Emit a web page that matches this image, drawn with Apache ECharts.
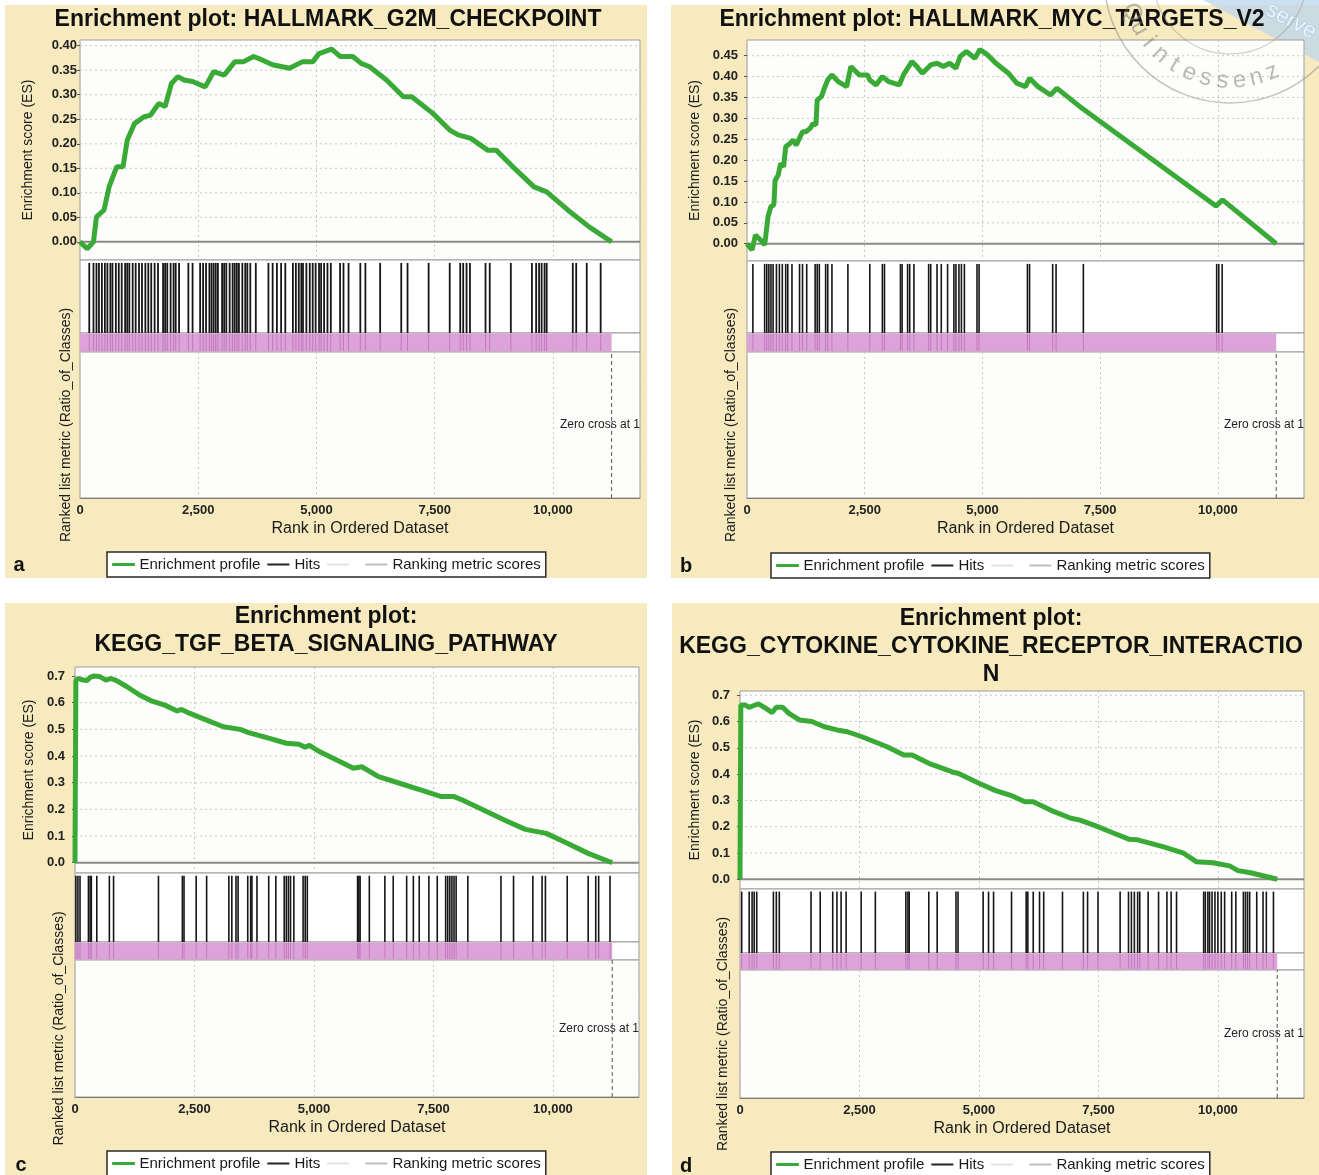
<!DOCTYPE html>
<html>
<head>
<meta charset="utf-8">
<title>Enrichment plots</title>
<script src="https://cdn.jsdelivr.net/npm/echarts@6/dist/echarts.min.js"></script>
<style>
  html, body { margin: 0; padding: 0; background: #fff; }
  #chart { width: 1319px; height: 1175px; }
</style>
</head>
<body>
<div id="chart"></div>
<script>
// ---- data ----
var listSize = 11240;

var rankA = [0,152,285,348,508,615,775,909,998,1150,1355,1488,1667,1800,1934,2068,2201,2380,2647,2825,3048,3271,3449,3672,3850,4073,4430,4697,4920,5054,5321,5499,5767,5945,6123,6480,6836,7015,7460,7817,7995,8262,8619,8797,9153,9599,9867,10312,10758,11240];
var esA = [0,-0.014,0,0.051,0.065,0.112,0.153,0.153,0.207,0.241,0.255,0.258,0.282,0.276,0.323,0.337,0.330,0.327,0.316,0.347,0.340,0.367,0.367,0.378,0.371,0.361,0.354,0.367,0.367,0.384,0.393,0.378,0.378,0.364,0.357,0.330,0.296,0.296,0.262,0.228,0.218,0.211,0.187,0.187,0.153,0.112,0.102,0.065,0.031,0];
var hitsA = [196,285,348,401,463,526,579,642,686,758,820,882,954,998,1043,1114,1177,1248,1310,1382,1444,1506,1578,1649,1756,1800,1845,1916,1979,2023,2095,2291,2380,2540,2603,2665,2736,2781,2825,2870,2915,3004,3048,3093,3164,3227,3271,3316,3360,3432,3494,3538,3601,3717,3984,4073,4163,4252,4341,4501,4564,4626,4679,4715,4786,4858,4920,4982,5054,5098,5161,5232,5303,5499,5571,5678,5927,6034,6346,6792,6925,7371,7817,8039,8102,8173,8245,8574,8663,9109,9555,9644,9706,9760,9822,9867,10419,10491,10714,11008];

var rankB = [0,107,179,286,375,447,509,571,598,661,714,777,822,911,982,1045,1179,1250,1340,1402,1465,1491,1581,1643,1715,1804,1938,2116,2206,2384,2563,2608,2741,2875,3009,3233,3322,3501,3608,3724,3902,4036,4170,4304,4438,4527,4661,4840,4947,5108,5287,5554,5733,5912,6001,6180,6447,6581,6805,7117,9960,10100,11240];
var esB = [0,-0.015,0.021,0.009,-0.003,0.065,0.089,0.093,0.152,0.164,0.192,0.184,0.232,0.240,0.248,0.236,0.268,0.268,0.276,0.288,0.284,0.344,0.352,0.372,0.392,0.404,0.388,0.376,0.424,0.404,0.404,0.392,0.380,0.400,0.388,0.380,0.404,0.436,0.424,0.408,0.428,0.432,0.424,0.432,0.420,0.448,0.460,0.444,0.465,0.452,0.432,0.408,0.384,0.376,0.396,0.376,0.356,0.372,0.352,0.324,0.090,0.105,0];
var hitsB = [125,375,420,464,509,554,625,688,750,822,866,955,1116,1179,1268,1447,1491,1536,1670,1715,1804,2143,2608,2875,2920,3259,3295,3411,3456,3545,3858,3902,4036,4126,4260,4394,4438,4501,4554,4617,4885,4929,5956,6001,6492,6564,7144,9975,10020,10092];

var rankC = [0,18,79,167,254,316,386,518,649,754,868,1088,1351,1614,1877,2140,2228,2404,2754,3105,3456,3632,4070,4421,4684,4816,4904,5123,5474,5825,6000,6351,6790,7228,7667,7930,8105,8544,8983,9421,9860,10298,10737,11240];
var esC = [0,0.685,0.691,0.685,0.683,0.695,0.700,0.698,0.685,0.691,0.683,0.660,0.629,0.606,0.591,0.569,0.575,0.560,0.535,0.510,0.500,0.488,0.466,0.448,0.444,0.433,0.440,0.416,0.385,0.354,0.360,0.323,0.298,0.273,0.248,0.248,0.235,0.198,0.160,0.125,0.110,0.073,0.035,0];
var hitsC = [18,61,105,281,316,342,456,719,807,1746,2246,2281,2535,2754,3219,3281,3368,3412,3614,3675,3702,3807,4053,4202,4377,4421,4465,4509,4579,4772,4816,4860,5912,5939,5965,6158,6483,6658,6939,7079,7202,7404,7579,7755,7798,7842,7886,7930,7974,8219,8912,9175,9579,9772,9842,10298,10737,10895,10956,11193];

var rankD = [0,17,105,192,262,385,542,673,760,891,1023,1241,1503,1765,2028,2246,2552,2814,3076,3426,3601,3950,4300,4475,4562,4999,5349,5698,5961,6135,6572,6922,7097,7446,7796,8146,8320,8845,9282,9544,9894,10243,10418,10680,11240];
var esD = [0,0.663,0.663,0.654,0.659,0.667,0.650,0.634,0.654,0.654,0.631,0.606,0.600,0.580,0.568,0.561,0.542,0.523,0.504,0.473,0.473,0.441,0.418,0.406,0.403,0.365,0.337,0.317,0.295,0.295,0.257,0.232,0.226,0.203,0.177,0.152,0.150,0.124,0.099,0.067,0.063,0.051,0.033,0.025,0];
var hitsD = [35,192,253,297,350,699,760,822,1486,1678,1940,2028,2115,2220,2535,2832,3470,3513,3540,3950,4125,4519,4562,5087,5200,5305,5681,5987,6022,6135,6267,6354,6747,7184,7272,7490,7953,8128,8189,8251,8320,8364,8539,8757,8932,9020,9133,9701,9736,9789,9824,9876,9937,9999,10069,10139,10287,10374,10532,10575,10619,10663,10811,10943,11012,11161];

var ticksA = [0,0.05,0.10,0.15,0.20,0.25,0.30,0.35,0.40];
var ticksB = [0,0.05,0.10,0.15,0.20,0.25,0.30,0.35,0.40,0.45];
var ticksCD = [0,0.1,0.2,0.3,0.4,0.5,0.6,0.7];

var titleA = ['Enrichment plot: HALLMARK_G2M_CHECKPOINT'];
var titleB = ['Enrichment plot: HALLMARK_MYC_TARGETS_V2'];
var titleC = ['Enrichment plot:', 'KEGG_TGF_BETA_SIGNALING_PATHWAY'];
var titleD = ['Enrichment plot:', 'KEGG_CYTOKINE_CYTOKINE_RECEPTOR_INTERACTIO', 'N'];

// ---- layout of each panel (pixels) ----
var panels = [
  { tag: 'a', title: titleA, ranks: rankA, es: esA, hits: hitsA, ticks: ticksA, dec: 2,
    left: 80, width: 560, esTop: 40, esBottom: 260, hitsBottom: 333, pinkBottom: 352, axisY: 498,
    yMin: -0.037, yMax: 0.4116, xMax: 11840, labelMargin: 3, esGap: 45, rlGap: 7,
    bg: [5, 5, 642, 573], titleX: 328, titleY: [20], legendLeft: 107, legendTop: 552, tagPos: [19, 565], hitW: 1.8 },
  { tag: 'b', title: titleB, ranks: rankB, es: esB, hits: hitsB, ticks: ticksB, dec: 2,
    left: 747, width: 557, esTop: 40, esBottom: 261, hitsBottom: 333, pinkBottom: 352, axisY: 498,
    yMin: -0.0414, yMax: 0.4876, xMax: 11830, labelMargin: 9, esGap: 45, rlGap: 9,
    bg: [671, 5, 648, 573], titleX: 992, titleY: [20], legendLeft: 771, legendTop: 553, tagPos: [686, 566], hitW: 1.6 },
  { tag: 'c', title: titleC, ranks: rankC, es: esC, hits: hitsC, ticks: ticksCD, dec: 1,
    left: 75, width: 564, esTop: 667, esBottom: 873, hitsBottom: 942, pinkBottom: 960, axisY: 1097,
    yMin: -0.0386, yMax: 0.734, xMax: 11800, labelMargin: 10, esGap: 39, rlGap: 9,
    bg: [5, 603, 642, 572], titleX: 326, titleY: [617, 645], legendLeft: 107, legendTop: 1151, tagPos: [21, 1165], hitW: 1.6 },
  { tag: 'd', title: titleD, ranks: rankD, es: esD, hits: hitsD, ticks: ticksCD, dec: 1,
    left: 740, width: 564, esTop: 691, esBottom: 889, hitsBottom: 953, pinkBottom: 970, axisY: 1098,
    yMin: -0.037, yMax: 0.716, xMax: 11800, labelMargin: 10, esGap: 38, rlGap: 10,
    bg: [672, 603, 647, 572], titleX: 991, titleY: [619, 647, 675], legendLeft: 771, legendTop: 1152, tagPos: [686, 1166], hitW: 1.6 }
];

var FONT = "'Liberation Sans', Arial, Helvetica, sans-serif";
var GREEN = '#3aaa36';
var PINK = '#dca3d8';
var PANEL_BG = '#f7eabf';

function thousands(v) {
  return String(v).replace(/\B(?=(\d{3})+(?!\d))/g, ',');
}

var option = {
  animation: false,
  textStyle: { fontFamily: FONT },
  grid: [], xAxis: [], yAxis: [], series: [], legend: [], graphic: []
};

panels.forEach(function(p, i) {
  var g = i * 4;
  var right = p.left + p.width;
  var tops = [p.esTop, p.esBottom, p.hitsBottom, p.pinkBottom];
  var bottoms = [p.esBottom, p.hitsBottom, p.pinkBottom, p.axisY];
  var fills = ['#fdfdfb', '#ffffff', '#ffffff', '#fdfdfc'];

  // panel background
  option.graphic.push({
    type: 'rect', z: -10, silent: true,
    shape: { x: p.bg[0], y: p.bg[1], width: p.bg[2], height: p.bg[3] },
    style: { fill: PANEL_BG }
  });

  for (var k = 0; k < 4; k++) {
    option.grid.push({
      left: p.left, top: tops[k], width: p.width, height: bottoms[k] - tops[k],
      show: true, backgroundColor: fills[k], borderColor: '#9c9c9c', borderWidth: 1
    });
    var showSplit = (k === 0 || k === 3);
    option.xAxis.push({
      type: 'value', gridIndex: g + k, min: 0, max: p.xMax, interval: 2500,
      axisLine: { show: k === 3, lineStyle: { color: '#7a7a7a' } },
      axisTick: { show: false },
      axisLabel: k === 3 ? {
        show: true, margin: 6, fontSize: 13, fontWeight: 'bold', color: '#222',
        showMaxLabel: false, formatter: thousands
      } : { show: false },
      splitLine: { show: showSplit, lineStyle: { color: '#c6c6c6', type: [2, 3] } },
      name: k === 3 ? 'Rank in Ordered Dataset' : '',
      nameLocation: 'middle', nameGap: 23,
      nameTextStyle: { fontSize: 16, color: '#1a1a1a' }
    });
  }

  // y axes
  option.yAxis.push({
    type: 'value', gridIndex: g, min: p.yMin, max: p.yMax,
    name: 'Enrichment score (ES)', nameLocation: 'middle', nameGap: p.esGap,
    nameTextStyle: { fontSize: 14, color: '#1a1a1a' },
    axisLine: { show: false },
    axisTick: { show: true, customValues: p.ticks, length: 3, lineStyle: { color: '#555' } },
    axisLabel: {
      customValues: p.ticks, margin: p.labelMargin, fontSize: 13, fontWeight: 'bold', color: '#222',
      formatter: (function(dec) { return function(v) { return v.toFixed(dec); }; })(p.dec)
    },
    splitLine: { show: false }
  });
  for (var m = 1; m < 4; m++) {
    option.yAxis.push({
      type: 'value', gridIndex: g + m, min: 0, max: 1,
      axisLine: { show: false }, axisTick: { show: false }, axisLabel: { show: false },
      splitLine: { show: false },
      name: m === 3 ? 'Ranked list metric (Ratio_of_Classes)' : '',
      nameLocation: 'middle', nameGap: p.rlGap,
      nameTextStyle: { fontSize: 14, color: '#1a1a1a' }
    });
  }

  // horizontal grid lines and zero line of the ES plot
  option.series.push({
    type: 'custom', xAxisIndex: g, yAxisIndex: g, silent: true, z: 1,
    data: p.ticks.map(function(v) { return [0, v]; }),
    encode: { x: 0, y: 1 },
    renderItem: (function(xMax) {
      return function(params, api) {
        var v = api.value(1);
        var a = api.coord([0, v]), b = api.coord([xMax, v]);
        return {
          type: 'line',
          shape: { x1: a[0], y1: a[1], x2: b[0], y2: b[1] },
          style: v === 0 ? { stroke: '#8a8a8a', lineWidth: 2 }
                         : { stroke: '#c6c6c6', lineWidth: 1, lineDash: [2, 3] }
        };
      };
    })(p.xMax)
  });

  // enrichment profile
  option.series.push({
    type: 'line', name: 'Enrichment profile', xAxisIndex: g, yAxisIndex: g, z: 5,
    data: p.ranks.map(function(r, j) { return [r, p.es[j]]; }),
    showSymbol: false,
    lineStyle: { color: GREEN, width: 5 },
    itemStyle: { color: GREEN }
  });

  // hits
  option.series.push({
    type: 'custom', name: 'Hits', xAxisIndex: g + 1, yAxisIndex: g + 1, silent: true,
    data: p.hits.map(function(r) { return [r, 0]; }),
    encode: { x: 0, y: 1 },
    itemStyle: { color: '#111' },
    renderItem: (function(w) {
      return function(params, api) {
        var x = api.coord([api.value(0), 0])[0];
        var y0 = api.coord([0, 0.96])[1], y1 = api.coord([0, 0])[1];
        return { type: 'line', shape: { x1: x, y1: y0, x2: x, y2: y1 },
                 style: { stroke: '#161616', lineWidth: w } };
      };
    })(p.hitW)
  });

  // ranked list colour strip
  option.series.push({
    type: 'custom', xAxisIndex: g + 2, yAxisIndex: g + 2, silent: true,
    data: [[0, listSize]],
    encode: { x: [0, 1] },
    renderItem: function(params, api) {
      var a = api.coord([api.value(0), 1]), b = api.coord([api.value(1), 0]);
      return { type: 'rect', shape: { x: a[0], y: a[1] + 0.5, width: b[0] - a[0], height: b[1] - a[1] - 1 },
               style: { fill: PINK } };
    }
  });
  option.series.push({
    type: 'custom', xAxisIndex: g + 2, yAxisIndex: g + 2, silent: true,
    data: p.hits.map(function(r) { return [r, 0]; }),
    encode: { x: 0, y: 1 },
    renderItem: function(params, api) {
      var x = api.coord([api.value(0), 0])[0];
      var y0 = api.coord([0, 1])[1], y1 = api.coord([0, 0])[1];
      return { type: 'line', shape: { x1: x, y1: y0 + 1, x2: x, y2: y1 - 1 },
               style: { stroke: 'rgba(165,70,160,0.45)', lineWidth: 1 } };
    }
  });

  // zero cross marker in the ranked list metric plot
  option.series.push({
    type: 'custom', xAxisIndex: g + 3, yAxisIndex: g + 3, silent: true,
    data: [[listSize, 0]],
    encode: { x: 0, y: 1 },
    renderItem: function(params, api) {
      var a = api.coord([api.value(0), 0]), b = api.coord([api.value(0), 1]);
      return { type: 'line', shape: { x1: a[0], y1: a[1], x2: b[0], y2: b[1] },
               style: { stroke: '#555', lineWidth: 1, lineDash: [4, 3] } };
    }
  });
  option.series.push({
    type: 'line', name: ' ', xAxisIndex: g + 3, yAxisIndex: g + 3, data: [],
    lineStyle: { color: '#e2e2e2' }, itemStyle: { color: '#e2e2e2' }
  });
  option.series.push({
    type: 'line', name: 'Ranking metric scores', xAxisIndex: g + 3, yAxisIndex: g + 3, data: [],
    lineStyle: { color: '#bdbdbd' }, itemStyle: { color: '#bdbdbd' }
  });

  option.graphic.push({
    type: 'text', x: right, y: (p.pinkBottom + p.axisY) / 2, z: 10, silent: true,
    style: { text: 'Zero cross at 1', font: '12px ' + FONT, fill: '#222', align: 'right', verticalAlign: 'middle' }
  });

  // legend
  option.legend.push({
    left: p.legendLeft, top: p.legendTop, orient: 'horizontal', selectedMode: false,
    icon: 'rect', itemWidth: 22, itemHeight: 2, itemGap: 7, padding: [5, 5],
    borderColor: '#2a2a2a', borderWidth: 1.5, backgroundColor: '#ffffff',
    textStyle: { fontSize: 15, color: '#1a1a1a', fontFamily: FONT },
    data: [
      { name: 'Enrichment profile', itemStyle: { color: GREEN, borderColor: GREEN, borderWidth: 1 } },
      { name: 'Hits', itemStyle: { color: '#222' } },
      { name: ' ', itemStyle: { color: '#e2e2e2' } },
      { name: 'Ranking metric scores', itemStyle: { color: '#bdbdbd' } }
    ]
  });

  // title lines and panel letter
  p.title.forEach(function(t, j) {
    option.graphic.push({
      type: 'text', x: p.titleX, y: p.titleY[j], silent: true,
      style: { text: t, font: 'bold 23px ' + FONT, fill: '#111', align: 'center', verticalAlign: 'middle' }
    });
  });
  option.graphic.push({
    type: 'text', x: p.tagPos[0], y: p.tagPos[1], silent: true,
    style: { text: p.tag, font: 'bold 20px ' + FONT, fill: '#111', align: 'center', verticalAlign: 'middle' }
  });
});

// publisher stamp in the top right corner
var stampCx = 1230, stampCy = -23;
option.graphic.push(
  { type: 'polygon', z: -5, silent: true,
    shape: { points: [[1203, 0], [1319, 0], [1319, 62]] },
    style: { fill: 'rgba(188,214,236,0.75)' } },
  { type: 'text', z: -4, silent: true, x: 1291, y: 21, rotation: -0.5,
    style: { text: 'serve', font: '22px ' + FONT, fill: 'rgba(245,250,255,0.9)', stroke: 'rgba(150,190,225,0.8)', lineWidth: 1,
             align: 'center', verticalAlign: 'middle' } },
  { type: 'circle', z: 50, silent: true, shape: { cx: stampCx, cy: stampCy, r: 126 },
    style: { fill: 'none', stroke: 'rgba(140,140,140,0.5)', lineWidth: 1.5 } },
  { type: 'circle', z: 50, silent: true, shape: { cx: stampCx, cy: stampCy, r: 77 },
    style: { fill: 'none', stroke: 'rgba(140,140,140,0.45)', lineWidth: 1.2 } }
);
var stampWord = 'Quintessenz';
for (var s = 0; s < stampWord.length; s++) {
  var ang = (160 - s * 9.4) * Math.PI / 180;
  option.graphic.push({
    type: 'text', z: 50, silent: true,
    x: stampCx + 104 * Math.cos(ang), y: stampCy + 104 * Math.sin(ang),
    rotation: -(ang - Math.PI / 2),
    style: { text: stampWord[s], font: '24px ' + FONT, fill: 'rgba(120,120,120,0.5)', align: 'center', verticalAlign: 'middle' }
  });
}

var myChart = echarts.init(document.getElementById('chart'), null, { renderer: 'canvas' });
myChart.setOption(option);
</script>
</body>
</html>
